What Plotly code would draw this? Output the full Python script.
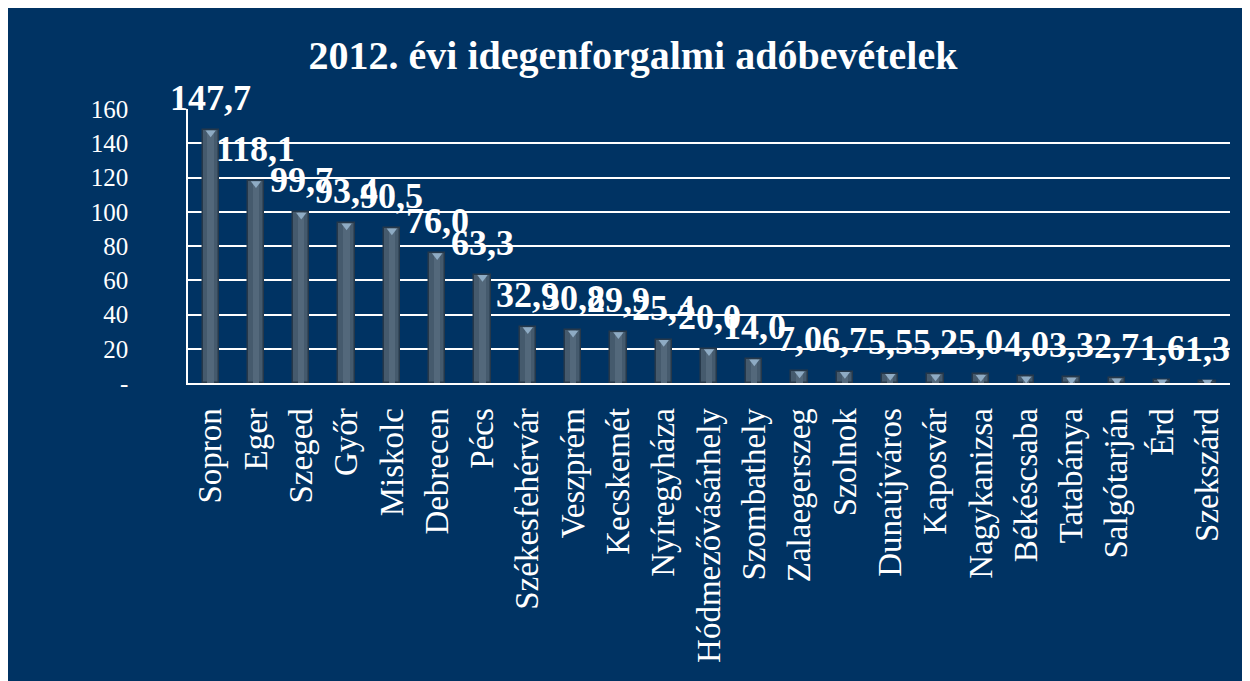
import plotly.graph_objects as go

cities = ["Sopron", "Eger", "Szeged", "Győr", "Miskolc", "Debrecen", "Pécs",
          "Székesfehérvár", "Veszprém", "Kecskemét", "Nyíregyháza",
          "Hódmezővásárhely", "Szombathely", "Zalaegerszeg", "Szolnok",
          "Dunaújváros", "Kaposvár", "Nagykanizsa", "Békéscsaba", "Tatabánya",
          "Salgótarján", "Érd", "Szekszárd"]
values = [147.7, 118.1, 99.7, 93.4, 90.5, 76.0, 63.3, 32.9, 30.8, 29.9, 25.4,
          20.0, 14.0, 7.0, 6.7, 5.5, 5.2, 5.0, 4.0, 3.3, 2.7, 1.6, 1.3]
labels = [f"{v:.1f}".replace(".", ",") for v in values]
y_ticks = [0, 20, 40, 60, 80, 100, 120, 140, 160]
y_ticktext = ["-", "20", "40", "60", "80", "100", "120", "140", "160"]
title_text = "2012. évi idegenforgalmi adóbevételek"

NAVY = "#003363"
SERIF = "Liberation Serif"

fig = go.Figure()
fig.add_trace(go.Bar(
    x=cities, y=values, width=0.36,
    marker=dict(color="#455a6d", line=dict(color="#26384a", width=1.5)),
    hoverinfo="x+y",
))
fig.add_trace(go.Bar(
    x=cities, y=values, width=0.14,
    marker=dict(color="#53687b", line=dict(width=0)),
    hoverinfo="skip",
))
cap_y = [max(v - 1.6, v * 0.5) for v in values]
fig.add_trace(go.Scatter(
    x=cities, y=cap_y, mode="markers",
    marker=dict(symbol="triangle-down", size=9, color="#8eabc4",
                line=dict(width=0)),
    hoverinfo="skip",
))

for c, v, t in zip(cities, values, labels):
    fig.add_annotation(x=c, y=v, text=f"<b>{t}</b>", showarrow=False,
                       yanchor="bottom", yshift=10,
                       font=dict(family=SERIF, size=36, color="white"))

fig.update_layout(
    width=1250, height=681,
    barmode="overlay", bargap=0.0,
    showlegend=False,
    paper_bgcolor=NAVY, plot_bgcolor=NAVY,
    margin=dict(l=180, r=28, t=101, b=306),
    title=dict(text=f"<b>{title_text}</b>", x=0.5, xanchor="center",
               y=0.931, yanchor="middle",
               font=dict(family=SERIF, size=40, color="white")),
)

fig.update_xaxes(
    type="category", range=[-0.5, len(cities) - 0.5],
    tickangle=-90, showgrid=False,
    showline=True, linecolor="white", linewidth=2,
    ticks="", ticklabelstandoff=10,
    tickfont=dict(family=SERIF, size=33, color="white"),
)
fig.update_yaxes(
    range=[0, 160], tickvals=y_ticks, ticktext=y_ticktext,
    showgrid=True, gridcolor="white", gridwidth=2,
    showline=True, linecolor="white", linewidth=1.5,
    zeroline=False, ticks="inside", ticklen=12, tickcolor="white",
    ticklabelstandoff=53,
    tickfont=dict(family=SERIF, size=25, color="white"),
)

fig.write_html("out.html")
